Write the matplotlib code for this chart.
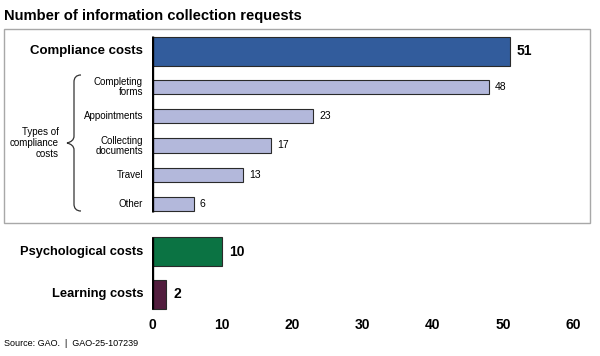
import matplotlib
matplotlib.use("Agg")
import matplotlib.pyplot as plt
from matplotlib.patches import Rectangle, PathPatch
from matplotlib.path import Path

plt.rcParams['font.family'] = ['Liberation Sans', 'DejaVu Sans']

# ---- data ----
main_top_label = "Compliance costs"
main_top_value = 51
sub_labels = ["Completing\nforms", "Appointments", "Collecting\ndocuments", "Travel", "Other"]
sub_values = [48, 23, 17, 13, 6]
bottom_labels = ["Psychological costs", "Learning costs"]
bottom_values = [10, 2]
xticks = [0, 10, 20, 30, 40, 50, 60]

title = "Number of information collection requests"
source = "Source: GAO.  |  GAO-25-107239"

# ---- styling / layout ----
W, H = 600, 356
fig = plt.figure(figsize=(W / 100, H / 100), dpi=100)

def fx(px):
    return px / W

def fy(py):
    return 1 - py / H

ax_left, ax_right, ax_top, ax_bot = 152, 573, 30, 312
ax = fig.add_axes([fx(ax_left), fy(ax_bot), fx(ax_right - ax_left), (ax_bot - ax_top) / H])
ax.set_xlim(0, 60)
ax.set_ylim(ax_bot, ax_top)  # y in pixel-like layout units

c_main = "#325C9C"
c_sub = "#B3B8DB"
c_psy = "#0B7343"
c_learn = "#521E3E"
edge = "#2A2A2A"

# layout positions (centers)
y_main = 51
y_subs = [87, 116, 145.5, 175, 204]
y_bottom = [251.5, 294]

ax.barh([y_main], [main_top_value], height=29, color=c_main, edgecolor=edge, linewidth=0.8)
ax.barh(y_subs, sub_values, height=14.5, color=c_sub, edgecolor=edge, linewidth=0.8)
ax.barh(y_bottom, bottom_values, height=29, color=[c_psy, c_learn], edgecolor=edge, linewidth=0.8)

# axis lines (two segments)
ax.vlines(0, 36, 212, color="black", linewidth=2.4, zorder=5)
ax.vlines(0, 237, 309, color="black", linewidth=2.4, zorder=5)

# value labels
ax.text(main_top_value + 0.9, y_main, str(main_top_value), ha="left", va="center",
        fontsize=10, fontweight="bold")
for y, v in zip(y_subs, sub_values):
    ax.text(v + 0.8, y, str(v), ha="left", va="center", fontsize=7.5)
for y, v in zip(y_bottom, bottom_values):
    ax.text(v + 1.0, y, str(v), ha="left", va="center", fontsize=10, fontweight="bold")

# category labels (in figure coordinates)
lab_x = fx(143)
fig.text(lab_x, fy(y_main), main_top_label, ha="right", va="center", fontsize=9.5, fontweight="bold")
for y, lab in zip(y_subs, sub_labels):
    fig.text(lab_x, fy(y), lab, ha="right", va="center", fontsize=7.0, linespacing=1.0)
for y, lab in zip(y_bottom, bottom_labels):
    fig.text(lab_x, fy(y), lab, ha="right", va="center", fontsize=9.3, fontweight="bold")

fig.text(fx(59), fy(143), "Types of\ncompliance\ncosts", ha="right", va="center",
         fontsize=7.0, linespacing=1.15)

# brace
pts = [
    (81, 75), (76, 75), (74, 78), (74, 82),
    (74, 136),
    (74, 140), (71, 142), (67, 143),
    (71, 144), (74, 146), (74, 150),
    (74, 204),
    (74, 208), (76, 211), (81, 211),
]
codes = [Path.MOVETO, Path.CURVE4, Path.CURVE4, Path.CURVE4,
         Path.LINETO,
         Path.CURVE4, Path.CURVE4, Path.CURVE4,
         Path.CURVE4, Path.CURVE4, Path.CURVE4,
         Path.LINETO,
         Path.CURVE4, Path.CURVE4, Path.CURVE4]
brace = Path([(fx(x), fy(y)) for x, y in pts], codes)
fig.patches.append(PathPatch(brace, transform=fig.transFigure, facecolor="none",
                             edgecolor="#333333", linewidth=0.9))

# grey box
fig.patches.append(Rectangle((fx(4), fy(223)), fx(586), (223 - 29) / H, transform=fig.transFigure,
                             facecolor="none", edgecolor="#A8A8A8", linewidth=1.0, zorder=0))

# x axis ticks
ax.set_xticks(xticks)
ax.set_xticklabels([str(t) for t in xticks], fontsize=10, fontweight="bold")
ax.tick_params(axis="x", length=0, pad=4)
ax.set_yticks([])
for s in ax.spines.values():
    s.set_visible(False)
ax.patch.set_alpha(0)

fig.text(fx(4), fy(16), title, ha="left", va="center", fontsize=10.6, fontweight="bold")
fig.text(fx(4), fy(343), source, ha="left", va="center", fontsize=6.5)

fig.savefig("out.png", dpi=100)
